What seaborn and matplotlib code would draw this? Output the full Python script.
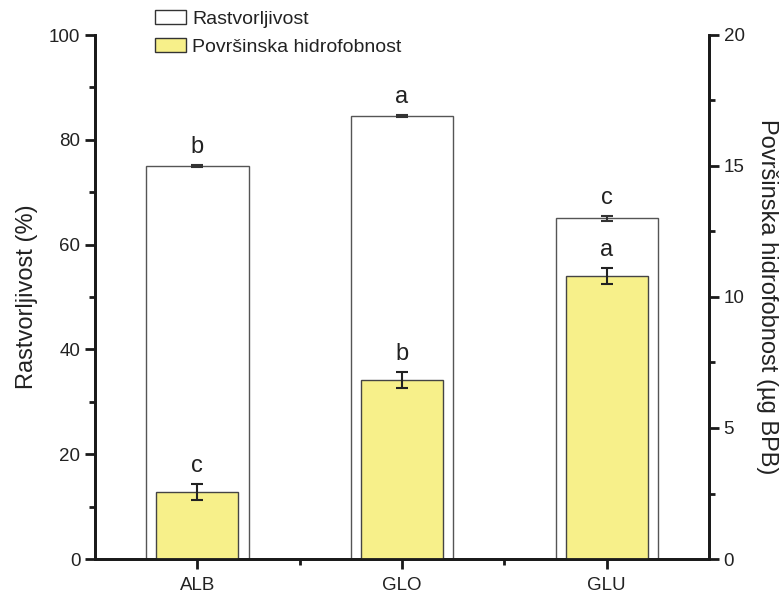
import matplotlib
matplotlib.use("Agg")
import matplotlib.pyplot as plt
import seaborn as sns
import pandas as pd
from matplotlib.ticker import MultipleLocator, FixedLocator
from matplotlib.patches import Patch

categories = ["ALB", "GLO", "GLU"]
solubility = [75.0, 84.6, 65.0]
solubility_err = [0.2, 0.2, 0.5]
solubility_letters = ["b", "a", "c"]
hydrophobicity = [2.56, 6.82, 10.8]
hydrophobicity_err = [0.32, 0.31, 0.29]
hydrophobicity_letters = ["c", "b", "a"]

sns.set_theme(style="white")
plt.rcParams["font.family"] = ["Liberation Sans", "DejaVu Sans"]

df = pd.DataFrame({"cat": categories, "sol": solubility, "hyd": hydrophobicity})

fig = plt.figure(figsize=(7.79, 5.95), dpi=100)
ax = fig.add_axes([95/779, 1-559/595, (709-95)/779, (559-35)/595])
ax2 = ax.twinx()

sns.barplot(data=df, x="cat", y="sol", ax=ax, color="white", width=0.5,
            edgecolor="#555555", linewidth=1.0, errorbar=None, saturation=1)
sns.barplot(data=df, x="cat", y="hyd", ax=ax2, color="#F7F08A", width=0.4,
            edgecolor="#444444", linewidth=1.0, errorbar=None, saturation=1)

xs = list(range(len(categories)))
ax.errorbar(xs, solubility, yerr=solubility_err, fmt="none", ecolor="#333333",
            elinewidth=1.5, capsize=4, capthick=1.5)
ax2.errorbar(xs, hydrophobicity, yerr=hydrophobicity_err, fmt="none", ecolor="#222222",
             elinewidth=1.5, capsize=4, capthick=1.5)

for x, v, e, t in zip(xs, solubility, solubility_err, solubility_letters):
    ax.annotate(t, (x, v + e), xytext=(0, 5), textcoords="offset points",
                ha="center", va="bottom", fontsize=17, color="#222222")
for x, v, e, t in zip(xs, hydrophobicity, hydrophobicity_err, hydrophobicity_letters):
    ax2.annotate(t, (x, v + e), xytext=(0, 5), textcoords="offset points",
                 ha="center", va="bottom", fontsize=17, color="#222222")

ax.set_xlim(-0.5, 2.5)
ax.set_ylim(0, 100)
ax2.set_ylim(0, 20)

ax.yaxis.set_major_locator(MultipleLocator(20))
ax.yaxis.set_minor_locator(MultipleLocator(10))
ax2.yaxis.set_major_locator(MultipleLocator(5))
ax2.yaxis.set_minor_locator(MultipleLocator(2.5))
ax.xaxis.set_minor_locator(FixedLocator([0.5, 1.5]))

ax.set_xlabel("")
ax.set_ylabel("Rastvorljivost (%)", fontsize=17, color="#222222", labelpad=8)
ax2.set_ylabel("Površinska hidrofobnost (µg BPB)", fontsize=17, color="#222222",
               rotation=-90, labelpad=24)

for a in (ax, ax2):
    for s in a.spines.values():
        s.set_linewidth(2.0)
        s.set_color("#1a1a1a")
    a.spines["top"].set_visible(False)
    a.tick_params(which="major", direction="out", length=7, width=2, colors="#1a1a1a",
                  labelsize=13.5, labelcolor="#222222")
    a.tick_params(which="minor", direction="out", length=4, width=2, colors="#1a1a1a")
    a.grid(False)
ax.tick_params(axis="y", which="both", left=True, right=False)
ax2.tick_params(axis="y", which="both", left=False, right=True)
ax.tick_params(axis="x", which="both", bottom=True)
ax.tick_params(axis="x", which="major", labelsize=13.5, pad=6)

handles = [Patch(facecolor="white", edgecolor="#333333", linewidth=1.0, label="Rastvorljivost"),
           Patch(facecolor="#F7F08A", edgecolor="#333333", linewidth=1.0, label="Površinska hidrofobnost")]
fig.legend(handles=handles, loc="upper left", bbox_to_anchor=(155/779, 1-10/595),
           frameon=False, fontsize=14, handlelength=1.6, handleheight=0.7,
           handletextpad=0.3, labelspacing=0.55, borderpad=0, borderaxespad=0,
           labelcolor="#222222")

fig.savefig("out.png", dpi=100)
